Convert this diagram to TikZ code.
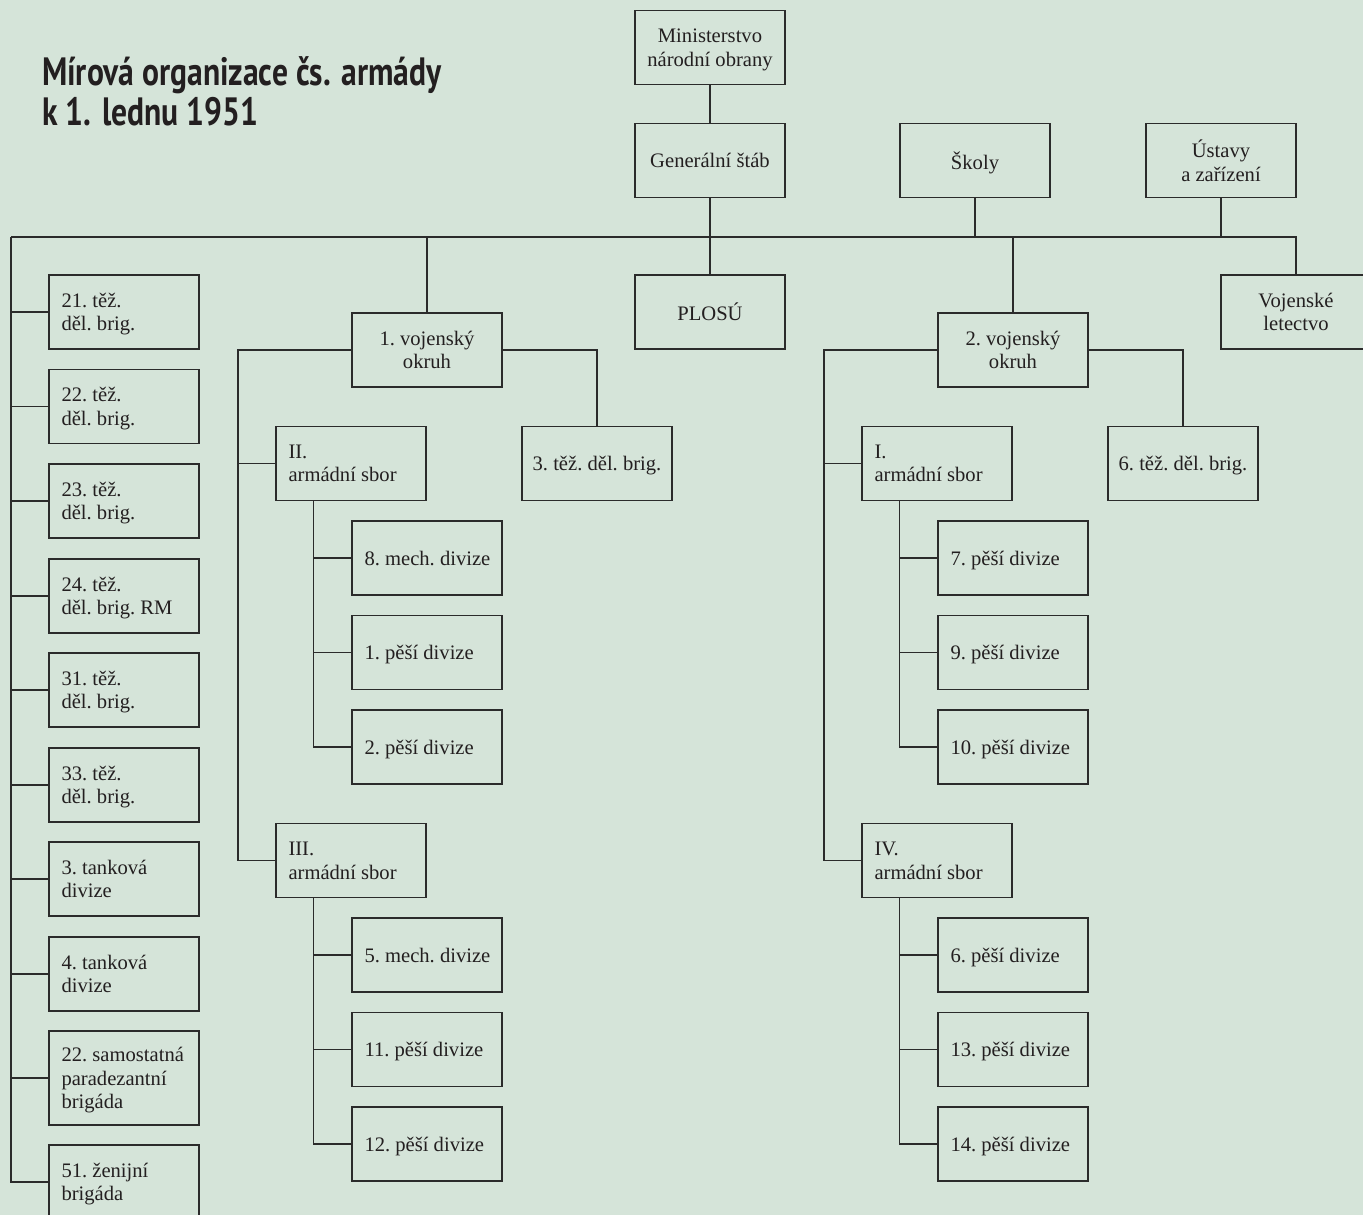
\documentclass[tikz,border=0pt]{standalone}
\usepackage{fontspec}
\setmainfont{Liberation Serif}
\newfontfamily\titlefont{PT Sans}[FakeStretch=0.8]
\definecolor{bg}{HTML}{D5E4D9}
\definecolor{ln}{HTML}{2B2B2B}
\definecolor{tx}{HTML}{231F20}
\newcommand{\boxfont}{\fontsize{20.6}{23.5}\selectfont\frenchspacing}
\newcommand{\fl}[1]{\makebox[125pt][l]{#1}}
\begin{document}
\begin{tikzpicture}[x=1pt,y=-1pt,
  every node/.style={text=tx},
  cbox/.style={draw=ln,line width=1.3pt,minimum width=150pt,minimum height=74pt,inner sep=0pt,
    align=center,text depth=0pt,font=\boxfont},
  lbox/.style={draw=ln,line width=1.3pt,minimum width=150pt,minimum height=74pt,inner xsep=12.5pt,inner ysep=0pt,
    align=left,text depth=0pt,font=\boxfont},
  conn/.style={draw=ln,line width=1.3pt}]
\fill[bg] (0,0) rectangle (1363,1215);
\useasboundingbox (0,0) rectangle (1363,1215);
\begin{scope}
\clip (0,0) rectangle (1363,1215);
% title
\node[anchor=base west,font=\titlefont\bfseries\fontsize{39.5}{40}\selectfont,inner sep=0pt] (t1) at (42,85) {Mírová organizace čs. armády};
\node[anchor=base west,font=\titlefont\bfseries\fontsize{39.5}{40}\selectfont,inner sep=0pt] (t2) at (42,125) {k 1. lednu 1951};
% top
\node[cbox] (mno) at (710,47.5) {Ministerstvo\\národní obrany};
\node[cbox] (gs) at (710,160.5) {Generální štáb};
\node[cbox] (sk) at (975,160.5) {Školy};
\node[cbox] (us) at (1221,160.5) {Ústavy\\a zařízení};
\node[cbox] (pl) at (710,312) {PLOSÚ};
\node[cbox] (vl) at (1296,312) {Vojenské\\letectvo};
\coordinate (busL) at (11,237);
\coordinate (busR) at (1296,237);
% left column
\node[lbox] (b21) at (124,312) {\fl{21. těž.}\\děl. brig.};
\node[lbox] (b22) at (124,406.5) {\fl{22. těž.}\\děl. brig.};
\node[lbox] (b23) at (124,501) {\fl{23. těž.}\\děl. brig.};
\node[lbox] (b24) at (124,596) {\fl{24. těž.}\\děl. brig. RM};
\node[lbox] (b31) at (124,690) {\fl{31. těž.}\\děl. brig.};
\node[lbox] (b33) at (124,785) {\fl{33. těž.}\\děl. brig.};
\node[lbox] (t3) at (124,879) {\fl{3. tanková}\\divize};
\node[lbox] (t4) at (124,974) {\fl{4. tanková}\\divize};
\node[lbox,minimum height=94pt] (p22) at (124,1078) {\fl{22. samostatná}\\paradezantní\\brigáda};
\node[lbox] (z51) at (124,1182) {\fl{51. ženijní}\\brigáda};
% 1. VO
\node[cbox] (vo1) at (427,350) {1. vojenský\\okruh};
\node[cbox] (tz3) at (597,463.5) {3. těž. děl. brig.};
\node[lbox] (s2) at (351,463.5) {\fl{II.}\\armádní sbor};
\node[lbox] (d8) at (427,558) {\fl{8. mech. divize}};
\node[lbox] (d1) at (427,652.5) {\fl{1. pěší divize}};
\node[lbox] (d2) at (427,747) {\fl{2. pěší divize}};
\node[lbox] (s3) at (351,860.5) {\fl{III.}\\armádní sbor};
\node[lbox] (d5) at (427,955) {\fl{5. mech. divize}};
\node[lbox] (d11) at (427,1049.5) {\fl{11. pěší divize}};
\node[lbox] (d12) at (427,1144) {\fl{12. pěší divize}};
% 2. VO
\node[cbox] (vo2) at (1013,350) {2. vojenský\\okruh};
\node[cbox] (tz6) at (1183,463.5) {6. těž. děl. brig.};
\node[lbox] (s1) at (937,463.5) {\fl{I.}\\armádní sbor};
\node[lbox] (d7) at (1013,558) {\fl{7. pěší divize}};
\node[lbox] (d9) at (1013,652.5) {\fl{9. pěší divize}};
\node[lbox] (d10) at (1013,747) {\fl{10. pěší divize}};
\node[lbox] (s4) at (937,860.5) {\fl{IV.}\\armádní sbor};
\node[lbox] (d6) at (1013,955) {\fl{6. pěší divize}};
\node[lbox] (d13) at (1013,1049.5) {\fl{13. pěší divize}};
\node[lbox] (d14) at (1013,1144) {\fl{14. pěší divize}};
% connectors top
\draw[conn] (mno) -- (gs);
\draw[conn] (gs) -- (pl);
\draw[conn] (sk) -- (sk |- busL);
\draw[conn] (us) -- (us |- busL);
\draw[conn] (busL) -- (busR) -- (vl);
\draw[conn] (vo1) -- (vo1 |- busL);
\draw[conn] (vo2) -- (vo2 |- busL);
% left column
\foreach \n in {b21,b22,b23,b24,b31,b33,t3,t4,p22,z51}
  \draw[conn] (busL) |- (\n.west);
% VO branches
\coordinate (l1) at (238,350);
\coordinate (l2) at (824,350);
\draw[conn] (vo1.west) -- (l1) |- (s3.west);
\draw[conn] (l1) |- (s2.west);
\draw[conn] (vo1.east) -| (tz3.north);
\draw[conn] (vo2.west) -- (l2) |- (s4.west);
\draw[conn] (l2) |- (s1.west);
\draw[conn] (vo2.east) -| (tz6.north);
% corps children
\foreach \s/\a/\b/\c in {s2/d8/d1/d2, s3/d5/d11/d12, s1/d7/d9/d10, s4/d6/d13/d14}{
  \draw[conn] ([xshift=38pt]\s.south west) |- (\c.west);
  \draw[conn] ([xshift=38pt]\s.south west) |- (\a.west);
  \draw[conn] ([xshift=38pt]\s.south west) |- (\b.west);
}
\end{scope}
\end{tikzpicture}
\end{document}
